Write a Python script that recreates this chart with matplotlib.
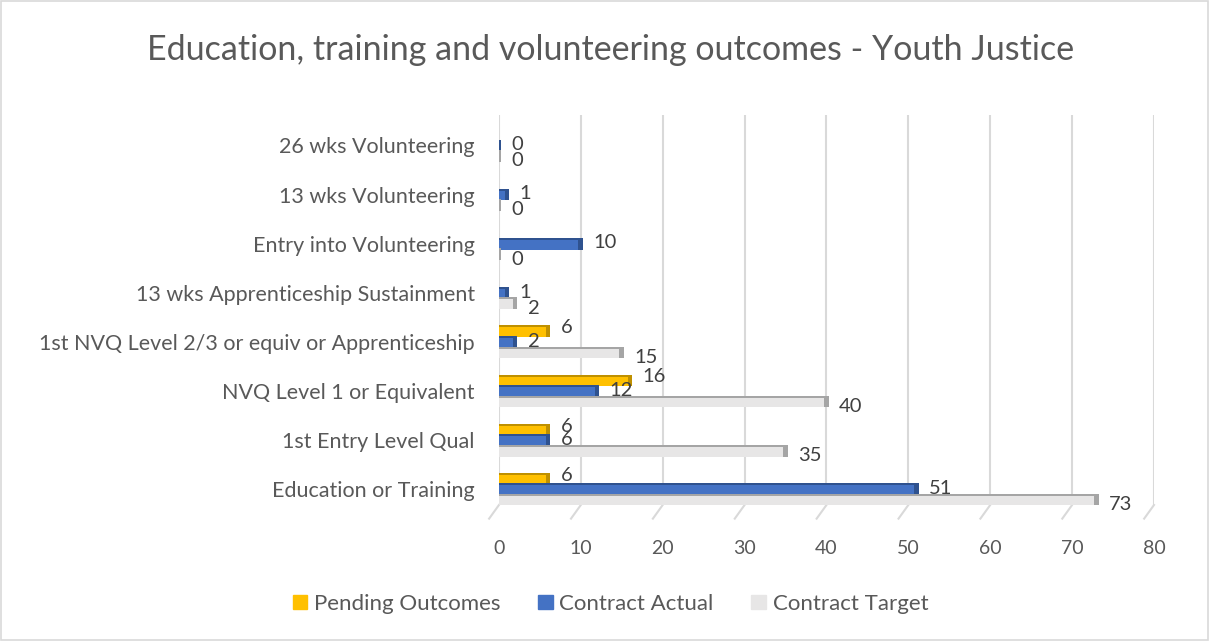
import numpy as np
import matplotlib
matplotlib.use('Agg')
import matplotlib.pyplot as plt
from matplotlib.patches import Rectangle
from matplotlib.lines import Line2D
import matplotlib.transforms as mtransforms

# Dữ liệu (từ dưới lên trên)
categories = [
    "Education or Training",
    "1st Entry Level Qual",
    "NVQ Level 1 or Equivalent",
    "1st NVQ Level 2/3 or equiv or Apprenticeship",
    "13 wks Apprenticeship Sustainment",
    "Entry into Volunteering",
    "13 wks Volunteering",
    "26 wks Volunteering",
]
pending = [6, 6, 16, 6, np.nan, np.nan, np.nan, np.nan]
actual = [51, 6, 12, 2, 1, 10, 1, 0]
target = [73, 35, 40, 15, 2, 0, 0, 0]
x_ticks = [0, 10, 20, 30, 40, 50, 60, 70, 80]

series = [
    ("Pending Outcomes", pending, "#FFC000", "#BF9000", 0.215, 2.5),
    ("Contract Actual", actual, "#4472C4", "#2F528F", 0.0, 0.5),
    ("Contract Target", target, "#E7E6E6", "#A5A5A5", -0.215, -3.5),
]

plt.rcParams['font.family'] = ['Lato', 'DejaVu Sans']
TXT = "#595959"

fig = plt.figure(figsize=(12.09, 6.41), dpi=100)
fig.patches.append(Rectangle((0.001, 0.001), 0.998, 0.998, transform=fig.transFigure,
                             fill=False, edgecolor="#D9D9D9", lw=1.2))
ax = fig.add_axes([0.4127, 0.2122, 0.5418, 0.6084])

y = np.arange(len(categories))
h = 0.24
for name, vals, col, dark, off, dy in series:
    vals = np.asarray(vals, dtype=float)
    ok = ~np.isnan(vals)
    yy = y[ok] + off
    vv = vals[ok]
    ax.barh(yy, vv, height=h, color=col, zorder=3)
    # mặt trên và đầu thanh (giả 3D)
    ax.barh(yy + h / 2 - 0.02, vv, height=0.04, color=dark, zorder=4)
    ax.barh(yy, 0.55, left=vv - 0.3, height=h, color=dark, zorder=4)
    for yi, v in zip(yy, vv):
        ax.annotate(f"{v:.0f}", (v, yi), xytext=(9, dy), textcoords='offset points',
                    ha='left', va='center', fontsize=14.5, color="#404040", zorder=5)

ax.set_xlim(0, 80)
ax.set_ylim(-0.32, 7.62)
ax.set_xticks(x_ticks)
ax.set_yticks(y)
ax.set_yticklabels(categories)
ax.tick_params(axis='both', length=0, labelcolor=TXT)
ax.tick_params(axis='x', pad=25, labelsize=14)
ax.tick_params(axis='y', pad=17.5, labelsize=15.5)
for s in ax.spines.values():
    s.set_visible(False)
ax.grid(axis='x', color="#D9D9D9", lw=1.5, zorder=0)

# vạch xiên ở đáy (sàn 3D)
tr = mtransforms.blended_transform_factory(ax.transData, ax.transAxes)
for t in x_ticks:
    ax.add_line(Line2D([t, t - 1.2], [0.0, -0.035], transform=tr, color="#D9D9D9",
                       lw=1.5, clip_on=False))

fig.text(0.505, 0.922, "Education, training and volunteering outcomes - Youth Justice",
         ha='center', va='center', fontsize=24.5, color=TXT)

handles = [Rectangle((0, 0), 1, 1, color=c) for _, _, c, _, _, _ in series]
fig.legend(handles, [s[0] for s in series], loc='center', bbox_to_anchor=(0.505, 0.058),
           ncol=3, frameon=False, fontsize=16, labelcolor=TXT, handlelength=0.65,
           handleheight=0.65, handletextpad=0.3, columnspacing=1.7)

plt.savefig("out.png", dpi=100)
